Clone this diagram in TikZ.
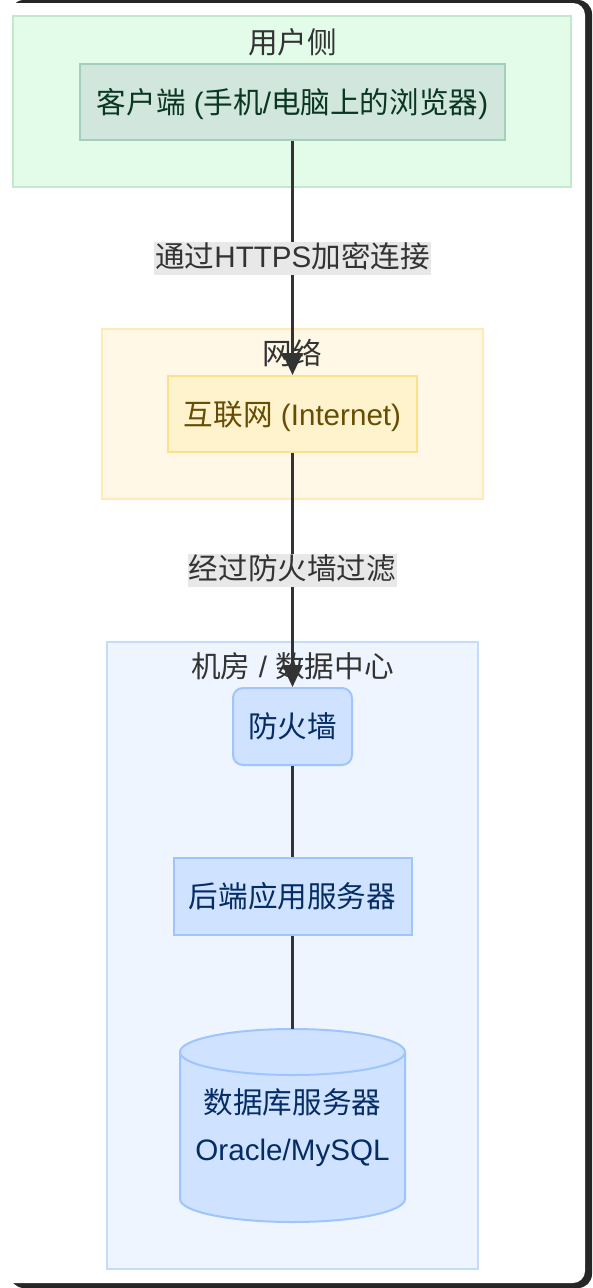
\documentclass[tikz,border=0pt]{standalone}
\usepackage{fontspec}
\setmainfont{Liberation Sans}
\newfontfamily\cjk{Noto Sans CJK SC}
\newcommand{\zhs}[1]{{\cjk #1}}
\usetikzlibrary{arrows.meta}
\definecolor{cgfill}{HTML}{E3FBE9}
\definecolor{cgline}{HTML}{C3E8CD}
\definecolor{ngfill}{HTML}{D1E7DD}
\definecolor{ngline}{HTML}{A3CFBB}
\definecolor{ngtext}{HTML}{0A3622}
\definecolor{cyfill}{HTML}{FFF8E6}
\definecolor{cyline}{HTML}{FFECB5}
\definecolor{nyfill}{HTML}{FFF3CD}
\definecolor{nyline}{HTML}{FFE08A}
\definecolor{nytext}{HTML}{664D03}
\definecolor{cbfill}{HTML}{EEF5FF}
\definecolor{cbline}{HTML}{C5DBFC}
\definecolor{nbfill}{HTML}{CFE2FF}
\definecolor{nbline}{HTML}{9EC5FE}
\definecolor{nbtext}{HTML}{052C65}
\definecolor{edgec}{HTML}{333333}
\definecolor{lblbg}{HTML}{E8E8E8}
\definecolor{frame}{HTML}{262626}
\begin{document}
\begin{tikzpicture}[x=1pt,y=-1pt,
  txt/.style={font=\fontsize{29.6}{35}\selectfont},
  cluster/.style={line width=2pt},
  ctitle/.style={txt, text=edgec, anchor=base, inner sep=0pt},
  box/.style={txt, line width=2pt, inner sep=0pt, text height=25pt, text depth=2.6pt},
  gbox/.style={box, fill=ngfill, draw=ngline, text=ngtext},
  ybox/.style={box, fill=nyfill, draw=nyline, text=nytext},
  bbox/.style={box, fill=nbfill, draw=nbline, text=nbtext},
  edge/.style={draw=edgec, line width=3pt},
  arrowedge/.style={edge, -{Triangle[width=20pt,length=22pt]}},
  lbl/.style={txt, fill=lblbg, text=edgec, inner xsep=1pt, inner ysep=1pt, text height=25pt, text depth=6pt},
  dbshape/.style={fill=nbfill, draw=nbline, line width=2pt}
]
\useasboundingbox (0,0) rectangle (592,1288);
% card frame
\fill[frame, rounded corners=14pt] (10,0) rectangle (592,1288);
\fill[white, rounded corners=12pt] (-30,3) rectangle (585,1283);

% clusters
\filldraw[cluster, fill=cgfill, draw=cgline] (13,16) rectangle (571,187);
\node[ctitle] (t1) at (292.5,53) {\zhs{用户侧}};
\filldraw[cluster, fill=cyfill, draw=cyline] (102,329) rectangle (483,499);
\node[ctitle] (t2) at (292.5,364) {\zhs{网络}};
\filldraw[cluster, fill=cbfill, draw=cbline] (107,642) rectangle (478,1269);
\node[ctitle] (t3) at (292.5,677) {\zhs{机房} / \zhs{数据中心}};

% nodes
\node[gbox, minimum width=425pt, minimum height=76pt] (client) at (292.5,102) {\zhs{客户端} (\zhs{手机}/\zhs{电脑上的浏览器})};
\node[ybox, minimum width=249pt, minimum height=76pt] (inet) at (292.5,414) {\zhs{互联网} (Internet)};
\node[bbox, rounded corners=10pt, minimum width=119pt, minimum height=77pt] (fw) at (292.5,726.5) {\zhs{防火墙}};
\node[bbox, minimum width=238pt, minimum height=77pt] (app) at (292.5,896.5) {\zhs{后端应用服务器}};

% database cylinder
\path[dbshape] (180,1052) -- (180,1199) arc[start angle=180, end angle=0, x radius=112.5, y radius=23]
  -- (405,1052) arc[start angle=0, end angle=-180, x radius=112.5, y radius=23] -- cycle;
\draw[dbshape, fill=none] (180,1052) arc[start angle=180, end angle=0, x radius=112.5, y radius=23];
\node[txt, text=nbtext, inner sep=0pt, minimum width=225pt, minimum height=193pt, align=center] (db) at (292.5,1125.5) {};
\node[txt, text=nbtext, inner sep=0pt, align=center] (dbtext) at (292.5,1127.5)
  {\zhs{数据库服务器}\\[12pt]Oracle/MySQL};

% edges
\draw[arrowedge] (client.south) -- node[lbl, midway] (l1) {\zhs{通过}HTTPS\zhs{加密连接}} (inet.north);
\draw[arrowedge] (inet.south) -- node[lbl, midway] (l2) {\zhs{经过防火墙过滤}} (fw.north);
\draw[edge] (fw.south) -- (app.north);
\draw[edge] (app.south) -- (db.north);
\end{tikzpicture}
\end{document}
